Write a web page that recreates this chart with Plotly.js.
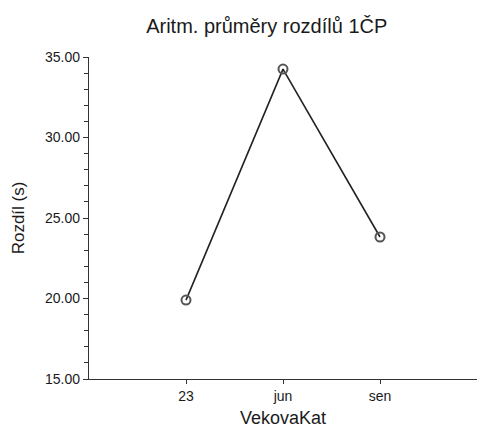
<!DOCTYPE html>
<html>
<head>
<meta charset="utf-8">
<script src="https://cdn.plot.ly/plotly-3.0.1.min.js"></script>
<style>html,body{margin:0;padding:0;background:#fff;}#chart{width:478px;height:428px;}</style>
</head>
<body>
<div id="chart"></div>
<script>
const categories = ["23", "jun", "sen"];
const means = [19.9, 34.25, 23.82];
const yTickVals = [15, 20, 25, 30, 35];

const trace = {
  x: [0, 1, 2],
  y: means,
  type: "scatter",
  mode: "lines+markers",
  line: {color: "#222222", width: 1.6},
  marker: {symbol: "circle-open", size: 9, color: "#555555", line: {width: 2, color: "#555555"}},
  hoverinfo: "skip"
};

const font = "Liberation Sans, Arial, sans-serif";
const layout = {
  width: 478, height: 428,
  margin: {l: 89, r: 1, t: 57, b: 49},
  paper_bgcolor: "#ffffff", plot_bgcolor: "#ffffff",
  showlegend: false,
  font: {family: font, color: "#1a1a1a"},
  title: {text: "Aritm. průměry rozdílů 1ČP", font: {size: 20, family: font, color: "#1a1a1a"}, x: 0.558, xanchor: "center", y: 0.94, yanchor: "middle"},
  xaxis: {
    range: [-1, 3],
    tickvals: [0, 1, 2],
    ticktext: categories,
    showgrid: false, zeroline: false,
    showline: true, linecolor: "#333333", linewidth: 1.2,
    ticks: "outside", ticklen: 4, tickcolor: "#333333",
    tickfont: {size: 14, family: font, color: "#1a1a1a"},
    title: {text: "VekovaKat", font: {size: 18, family: font, color: "#1a1a1a"}, standoff: 8}
  },
  yaxis: {
    range: [15, 35],
    tickvals: yTickVals,
    tickformat: ".2f",
    showgrid: false, zeroline: false,
    showline: true, linecolor: "#333333", linewidth: 1.2,
    ticks: "outside", ticklen: 5, tickcolor: "#333333",
    minor: {dtick: 1, ticks: "outside", ticklen: 4, tickcolor: "#333333", showgrid: false},
    tickfont: {size: 14, family: font, color: "#1a1a1a"},
    title: {text: "Rozdíl (s)", font: {size: 17, family: font, color: "#1a1a1a"}, standoff: 16}
  }
};

Plotly.newPlot("chart", [trace], layout, {displayModeBar: false, staticPlot: true});
</script>
</body>
</html>
